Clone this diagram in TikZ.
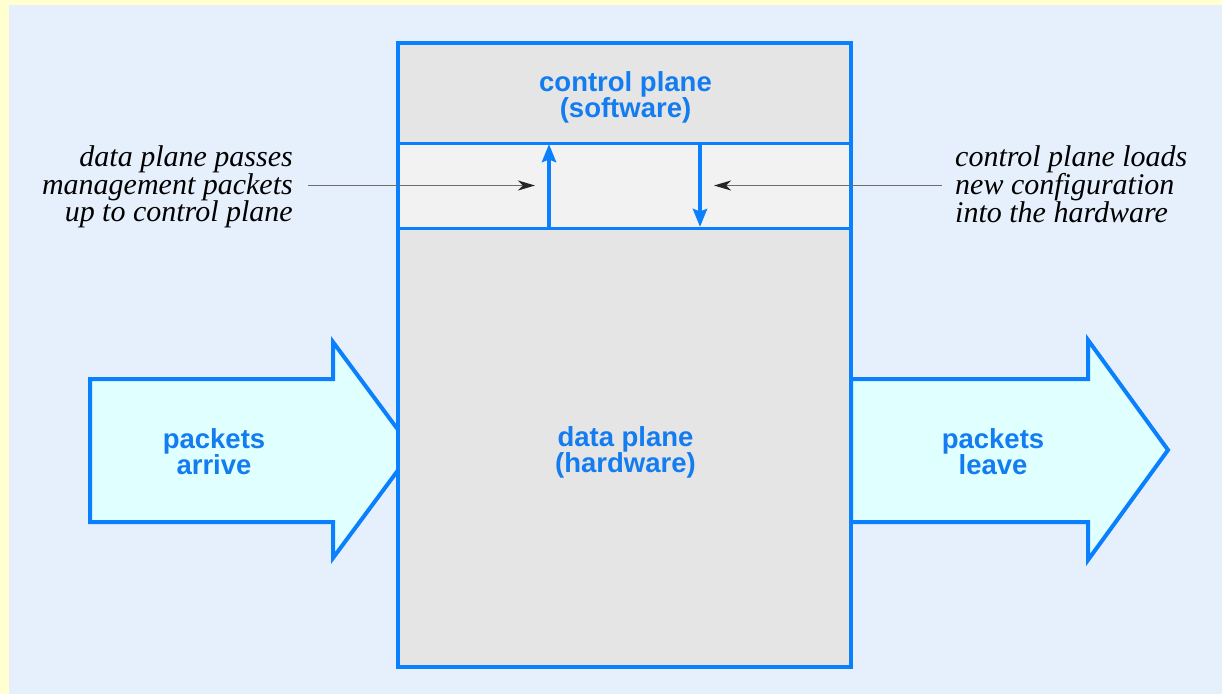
\documentclass[tikz,border=0pt]{standalone}
\usepackage{fontspec}
\setmainfont{Liberation Serif}
\setsansfont{Liberation Sans}
\usetikzlibrary{arrows.meta}

\definecolor{pageyellow}{RGB}{255,255,208}
\definecolor{skyback}{RGB}{230,240,252}
\definecolor{edgeblue}{RGB}{10,128,255}
\definecolor{labelblue}{RGB}{18,124,240}
\definecolor{ctrlgray}{RGB}{229,229,229}
\definecolor{bandgray}{RGB}{242,242,242}
\definecolor{flowcyan}{RGB}{224,255,255}
\definecolor{leadgray}{RGB}{110,110,110}

\begin{document}
\begin{tikzpicture}[x=1pt,y=-1pt,
  planelabel/.style={font=\sffamily\bfseries\fontsize{27.5}{25.5}\selectfont,
    text=labelblue, align=center, inner sep=0pt},
  note/.style={font=\itshape\fontsize{30}{27.5}\selectfont, text=black, inner sep=0pt},
  flowshape/.style={draw=edgeblue, fill=flowcyan, line width=4pt, line join=miter},
  section/.style={anchor=north west, inner sep=0pt, outer sep=0pt, minimum width=453pt},
  edge/.style={draw=edgeblue, line width=4pt},
  divider/.style={draw=edgeblue, line width=3pt},
  signal/.style={draw=edgeblue, line width=4pt,
    -{Stealth[length=18pt, width=14pt, inset=2.5pt]}},
  pointer/.style={draw=leadgray, line width=1.6pt,
    -{Stealth[length=17pt, width=10pt, inset=5pt, color=black!85, fill=black!85]}}]

  % page and backdrop
  \useasboundingbox (0,0) rectangle (1222,694);
  \fill[pageyellow] (0,0) rectangle (1222,694);
  \fill[skyback] (9,5) rectangle (1222,694);

  % big block arrows for incoming and outgoing packets
  \draw[flowshape] (90,379) -- (333,379) -- (333,342) -- (413,450)
    -- (333,558) -- (333,522) -- (90,522) -- cycle;
  \draw[flowshape] (851,379) -- (1088,379) -- (1088,340) -- (1168,450)
    -- (1088,560) -- (1088,522) -- (851,522) -- cycle;

  % the device: control section, interface band, data section
  \node[section, fill=ctrlgray, minimum height=624pt] (chassis) at (398,43) {};
  \node[section, fill=bandgray, minimum height=85pt] (band) at (398,143) {};
  \draw[divider] (band.north west) -- (band.north east);
  \draw[divider] (band.south west) -- (band.south east);
  \draw[edge] (chassis.north west) rectangle (chassis.south east);

  % vertical transfers through the band
  \coordinate (upfoot) at (549,228);
  \coordinate (uptop)  at (549,144);
  \coordinate (downtop)  at (700,143);
  \coordinate (downfoot) at (700,227);
  \draw[signal] (upfoot) -- (uptop);
  \draw[signal] (downtop) -- (downfoot);

  % labels
  \node[planelabel] (ctrllabel) at (625.5,97.5) {control plane\\(software)};
  \node[planelabel] (datalabel) at (625.5,452.5) {data plane\\(hardware)};
  \node[planelabel] (inlabel) at (214,451.5) {packets\\arrive};
  \node[planelabel] (outlabel) at (993,451.5) {packets\\leave};

  \node[note, align=right, anchor=east] (upnote) at (293,187)
    {data plane passes\\management packets\\up to control plane};
  \node[note, align=left, anchor=west] (downnote) at (955,184)
    {control plane loads\\new configuration\\into the hardware};

  % leader lines from the notes
  \coordinate (upnotestart) at (308,185.5);
  \coordinate (upnotetip) at (535,185.5);
  \coordinate (downnotestart) at (942,185.5);
  \coordinate (downnotetip) at (714,185.5);
  \draw[pointer] (upnotestart) -- (upnotetip);
  \draw[pointer] (downnotestart) -- (downnotetip);
\end{tikzpicture}
\end{document}
